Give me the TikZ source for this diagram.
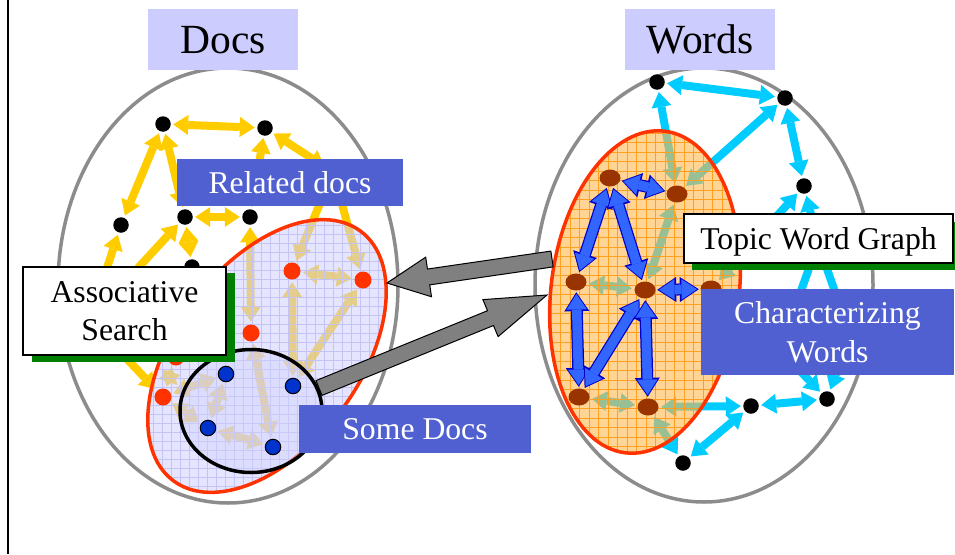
\documentclass[tikz,border=0pt]{standalone}
\usepackage{fontspec}
\setmainfont{Liberation Serif}
\usetikzlibrary{arrows.meta,shapes.geometric}
\definecolor{ycol}{HTML}{FFCC00}
\definecolor{ccol}{HTML}{00CCFF}
\definecolor{grayl}{HTML}{8C8C8C}
\definecolor{redl}{HTML}{FF3300}
\definecolor{lavf}{HTML}{D0D0FF}
\definecolor{lavgrid}{HTML}{C4C4F4}
\definecolor{orf}{HTML}{FFB84D}
\definecolor{orgrid}{HTML}{FFA020}
\definecolor{dblue}{HTML}{0033CC}
\definecolor{brn}{HTML}{993300}
\definecolor{barf}{HTML}{3366FF}
\definecolor{bard}{HTML}{0000CC}
\definecolor{labblue}{RGB}{80,96,208}
\definecolor{labl}{HTML}{CCCCFF}
\definecolor{shad}{HTML}{008000}
\definecolor{bigg}{HTML}{808080}
\begin{document}
\begin{tikzpicture}[x=1pt,y=-1pt,
 spot/.style={circle,minimum size=15pt,inner sep=0pt},
 rspot/.style={circle,minimum size=17pt,inner sep=0pt},
 bspot/.style={ellipse,minimum width=21pt,minimum height=17pt,inner sep=0pt},
 dotk/.style={circle,fill=black,minimum size=15.5pt,inner sep=0pt},
 dotr/.style={circle,fill=redl,minimum size=17pt,inner sep=0pt},
 dotb/.style={circle,fill=dblue,draw=black,line width=1pt,minimum size=15.5pt,inner sep=0pt},
 dotn/.style={ellipse,fill=brn,minimum width=21pt,minimum height=17pt,inner sep=0pt},
 yarr/.style={draw=ycol,line width=8pt,{Triangle[length=15pt,width=20pt,line width=0pt]}-{Triangle[length=15pt,width=20pt,line width=0pt]},shorten <=2.5pt,shorten >=2.5pt},
 carr/.style={draw=ccol,line width=8pt,{Triangle[length=15pt,width=20pt,line width=0pt]}-{Triangle[length=15pt,width=20pt,line width=0pt]},shorten <=2.5pt,shorten >=2.5pt},
 barro/.style={draw=bard,line width=12pt,{Triangle[length=19pt,width=25pt,line width=0pt]}-{Triangle[length=19pt,width=25pt,line width=0pt]},shorten <=1.5pt,shorten >=1.5pt},
 barri/.style={draw=barf,line width=9.5pt,{Triangle[length=15.5pt,width=20.5pt,line width=0pt]}-{Triangle[length=15.5pt,width=20.5pt,line width=0pt]},shorten <=3.3pt,shorten >=3.3pt},
 ell/.style={draw=grayl,line width=3.5pt},
 rim/.style={draw=redl,line width=3.5pt},
 lavbox/.style={fill=labl,inner sep=0pt,text depth=0pt,font=\fontsize{41.5pt}{48pt}\selectfont},
 bluebox/.style={fill=labblue,text=white,inner sep=0pt,text depth=0pt,align=center,font=\fontsize{31.7pt}{38.5pt}\selectfont},
 whitebox/.style={fill=white,draw=black,line width=1.2pt,inner sep=0pt,text depth=0pt,align=center,font=\fontsize{31.7pt}{38.5pt}\selectfont},
 shadowbox/.style={fill=shad,inner sep=0pt},
 bigarrow/.style={fill=bigg,draw=black,line width=1pt,line join=miter}
]
\useasboundingbox (0,0) rectangle (955,554);

% big gray ellipses
\draw[ell] (228,285.5) ellipse [x radius=170, y radius=217.5];
\draw[ell] (704,285) ellipse [x radius=169, y radius=217];

% ---------- left graph: positions
\node[spot] (A) at (163,124) {};
\node[spot] (B) at (265,128) {};
\node[spot] (C) at (121,225) {};
\node[spot] (D) at (185,217) {};
\node[spot] (E) at (250,217) {};
\node[spot] (F) at (192,267) {};
\node[spot] (G) at (90,320) {};
\node[spot] (H) at (333,172) {};
\node[rspot] (R1) at (292,271) {};
\node[rspot] (R2) at (363,280) {};
\node[rspot] (R3) at (251,333) {};
\node[rspot] (R4) at (163,397) {};
\node[rspot] (R5) at (176,357) {};
\node[spot] (K1) at (226,374) {};
\node[spot] (K2) at (293,386) {};
\node[spot] (K3) at (208,428) {};
\node[spot] (K4) at (273,447) {};

\foreach \a/\b in {A/B,A/C,A/D,B/E,B/H,D/E,D/F,C/G,D/G,G/R4,E/R3,H/R1,H/R2,R1/R2,R1/K2,R2/K2,R3/K4,R4/R5,R4/K1,R4/K3,K1/K3,K3/K4}
  \draw[yarr] (\a) -- (\b);

% related-docs region
\fill[lavf, fill opacity=0.55, rotate around={53:(267,356)}] (267,356) ellipse [x radius=156, y radius=92];
\begin{scope}
  \clip[rotate around={53:(267,356)}] (267,356) ellipse [x radius=156, y radius=92];
  \draw[step=9pt, lavgrid, line width=0.45pt] (100,520) grid (420,190);
\end{scope}
\draw[rim, rotate around={53:(267,356)}] (267,356) ellipse [x radius=156, y radius=92];

% some-docs circle
\fill[lavf, fill opacity=0.45] (251,411) ellipse [x radius=71, y radius=61.5];
\draw[black, line width=3.5pt] (251,411) ellipse [x radius=71, y radius=61.5];

\foreach \n in {A,B,C,D,E,F,G,H} \node[dotk] (\n-d) at (\n) {};
\foreach \n in {R1,R2,R3,R4,R5} \node[dotr] (\n-d) at (\n) {};
\foreach \n in {K1,K2,K3,K4} \node[dotb] (\n-d) at (\n) {};

% ---------- right graph: positions
\node[spot] (W1) at (657,82) {};
\node[spot] (W2) at (785,98) {};
\node[spot] (W3) at (804,186) {};
\node[spot] (W4) at (751,406) {};
\node[spot] (W5) at (827,399) {};
\node[spot] (W6) at (683,463) {};
\node[spot] (N1) at (818,243) {};
\node[spot] (N2) at (780,350) {};
\node[spot] (N3) at (850,335) {};
\node[bspot] (T1) at (610,178) {};
\node[bspot] (T2) at (677,194) {};
\node[bspot] (T3) at (576,282) {};
\node[bspot] (T4) at (645,290) {};
\node[bspot] (T5) at (711,289) {};
\node[bspot] (T6) at (579,397) {};
\node[bspot] (T7) at (648,407) {};

\foreach \a/\b in {W1/W2,W1/T2,W2/T2,W2/W3,W3/N1,W3/T5,N1/N2,N1/N3,N2/W5,N3/W5,W4/W5,W4/W6,T7/W4,T7/W6,T2/T4,T3/T4,T6/T7}
  \draw[carr] (\a) -- (\b);

% topic word graph region
\fill[orf, fill opacity=0.6, rotate around={83:(645,292)}] (645,292) ellipse [x radius=162, y radius=94];
\begin{scope}
  \clip[rotate around={83:(645,292)}] (645,292) ellipse [x radius=162, y radius=94];
  \draw[step=9.5pt, orgrid, line width=0.5pt] (530,470) grid (760,120);
\end{scope}
\draw[rim, rotate around={83:(645,292)}] (645,292) ellipse [x radius=162, y radius=94];

\foreach \a/\b in {T1/T2,T1/T3,T1/T4,T3/T6,T4/T6,T4/T7,T4/T5}
  {\draw[barro] (\a) -- (\b); \draw[barri] (\a) -- (\b);}

\foreach \n in {T1,T2,T3,T4,T5,T6,T7} \node[dotn] (\n-d) at (\n) {};
\foreach \n in {W1,W2,W3,W4,W5,W6,N1,N2,N3} \node[dotk] (\n-d) at (\n) {};

% ---------- big gray arrows
\draw[bigarrow] (550.85,251.08) -- (427.45,269.03) -- (425.7,257.15) -- (387,283) -- (431.5,296.75) -- (429.75,284.87) -- (553.15,266.92) -- cycle;
\draw[bigarrow] (316.0,380.6) -- (487.5,310.7) -- (482.9,299.6) -- (547,295) -- (498.1,336.6) -- (493.5,325.5) -- (322.0,395.4) -- cycle;

% ---------- labels
\node[lavbox, minimum width=150pt, minimum height=61pt] (docs) at (223,39.5) {Docs};
\node[lavbox, minimum width=150pt, minimum height=61pt] (words) at (700,39.5) {Words};
\node[bluebox, minimum width=226pt, minimum height=47pt] (rel) at (290,182.5) {Related docs};
\node[shadowbox, minimum width=203pt, minimum height=89pt] (assoc-s) at (133.5,317.5) {};
\node[whitebox, minimum width=203pt, minimum height=88pt] (assoc) at (124.5,311) {Associative\\Search};
\node[bluebox, minimum width=232pt, minimum height=48pt] (some) at (415,429) {Some Docs};
\node[shadowbox, minimum width=270pt, minimum height=48pt] (topic-s) at (827,246) {};
\node[whitebox, minimum width=269pt, minimum height=49pt] (topic) at (818.5,238.5) {Topic Word Graph};
\node[bluebox, minimum width=253pt, minimum height=86pt] (char) at (827.5,332) {Characterizing\\Words};

% frame line
\draw[line width=2.6pt] (8,0) -- (8,554);
\end{tikzpicture}
\end{document}
